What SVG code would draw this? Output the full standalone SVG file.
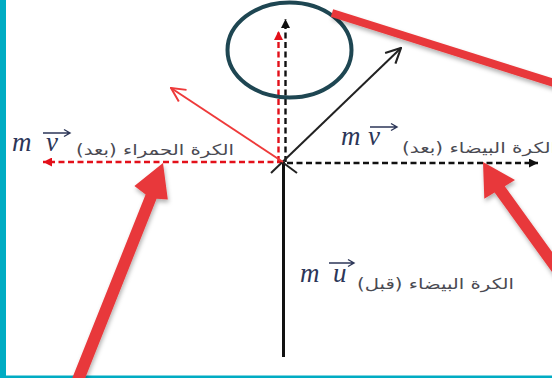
<svg xmlns="http://www.w3.org/2000/svg" width="552" height="378" viewBox="0 0 552 378">
<style>
.ar{font-family:"DejaVu Sans","Noto Sans",sans-serif;font-size:15px;fill:#4a4a52;direction:rtl;unicode-bidi:embed}
.mt{font-family:"Liberation Serif","DejaVu Serif",serif;font-style:italic;font-size:27px;fill:#2c3658}
.vec{stroke:#2c3658;stroke-width:1.4;fill:none}
.dk{stroke:#111;stroke-width:2.4;stroke-dasharray:6 3.5;fill:none}
.dr{stroke:#e3101a;stroke-width:2.4;stroke-dasharray:6 3.5;fill:none}
.callout{fill:#e8393b}
</style>
<defs>
<marker id="triK" viewBox="0 0 10 10" refX="10" refY="5" markerWidth="10" markerHeight="9" markerUnits="userSpaceOnUse" orient="auto"><path d="M0,0 L10,5 L0,10 Z" fill="#111"/></marker>
<marker id="triR" viewBox="0 0 10 10" refX="10" refY="5" markerWidth="10" markerHeight="9" markerUnits="userSpaceOnUse" orient="auto"><path d="M0,0 L10,5 L0,10 Z" fill="#e3101a"/></marker>
<marker id="vK" viewBox="0 0 16 16" refX="15" refY="8" markerWidth="17" markerHeight="17" markerUnits="userSpaceOnUse" orient="auto"><path d="M1,1 L15,8 L1,15" fill="none" stroke="#222" stroke-width="2"/></marker>
<marker id="vR" viewBox="0 0 16 16" refX="15" refY="8" markerWidth="16" markerHeight="16" markerUnits="userSpaceOnUse" orient="auto"><path d="M1,1 L15,8 L1,15" fill="none" stroke="#ee3a3a" stroke-width="2"/></marker>
<filter id="sh" x="-20%" y="-20%" width="140%" height="160%"><feDropShadow dx="1" dy="3" stdDeviation="2" flood-color="#000" flood-opacity="0.3"/></filter>
</defs>
<rect width="552" height="378" fill="#fff"/>
<rect x="0" y="0" width="6" height="378" fill="#00acc3"/>
<rect x="0" y="375.5" width="552" height="2.5" fill="#00acc3"/>

<g id="connectors">
<line x1="283.5" y1="162" x2="283.5" y2="357" stroke="#111" stroke-width="3"/>
<path class="dk" d="M285.5,162 V19" marker-end="url(#triK)"/>
<path class="dr" d="M278.5,162 V31" marker-end="url(#triR)"/>
<path class="dr" d="M283,162 H43" marker-end="url(#triR)"/>
<path class="dk" d="M287,163 H538" marker-end="url(#triK)"/>
<path d="M271,173 L401,48" stroke="#222" stroke-width="2" fill="none" marker-end="url(#vK)"/>
<path d="M283.5,163 L297,173" stroke="#222" stroke-width="2" fill="none"/>
<path d="M283,162 L171,88" stroke="#ee3a3a" stroke-width="2" fill="none" marker-end="url(#vR)"/>
</g>

<g id="label-red-after">
<text class="mt" x="12" y="151">m</text>
<text class="mt" x="46" y="151">v</text>
<path class="vec" d="M43,133 H70 M64,129.5 L70,133 L64,136.5"/>
<text class="ar" x="234" y="155" textLength="158" lengthAdjust="spacingAndGlyphs">الكرة الحمراء (بعد)</text>
</g>

<g id="label-white-after">
<text class="mt" x="341" y="145">m</text>
<text class="mt" x="368" y="145">v</text>
<path class="vec" d="M370,127 H397 M391,123.5 L397,127 L391,130.5"/>
<text class="ar" x="556" y="153" textLength="154" lengthAdjust="spacingAndGlyphs">الكرة البيضاء (بعد)</text>
</g>

<g id="label-white-before">
<text class="mt" x="300" y="282">m</text>
<text class="mt" x="333" y="282">u</text>
<path class="vec" d="M329,263 H354 M348,259.5 L354,263 L348,266.5"/>
<text class="ar" x="514" y="289" textLength="157" lengthAdjust="spacingAndGlyphs">الكرة البيضاء (قبل)</text>
</g>

<g id="highlight">
<ellipse cx="289.5" cy="50" rx="62" ry="47.5" fill="none" stroke="#1e4652" stroke-width="4"/>
<line x1="332" y1="13" x2="570" y2="88" stroke="#e8393b" stroke-width="8" filter="url(#sh)"/>
</g>

<g id="callout-left" filter="url(#sh)">
<path class="callout" d="M71.4,380.2 L145.6,194.6 L134.4,186 L163,163 L167.8,199.4 L156.6,198.7 L82.6,384.6 Z"/>
</g>
<g id="callout-right" filter="url(#sh)">
<path class="callout" d="M565,290 L494.6,192.4 L484.3,198.7 L483,162 L515,180 L504.8,186.2 L575,283.8 Z"/>
</g>
</svg>
